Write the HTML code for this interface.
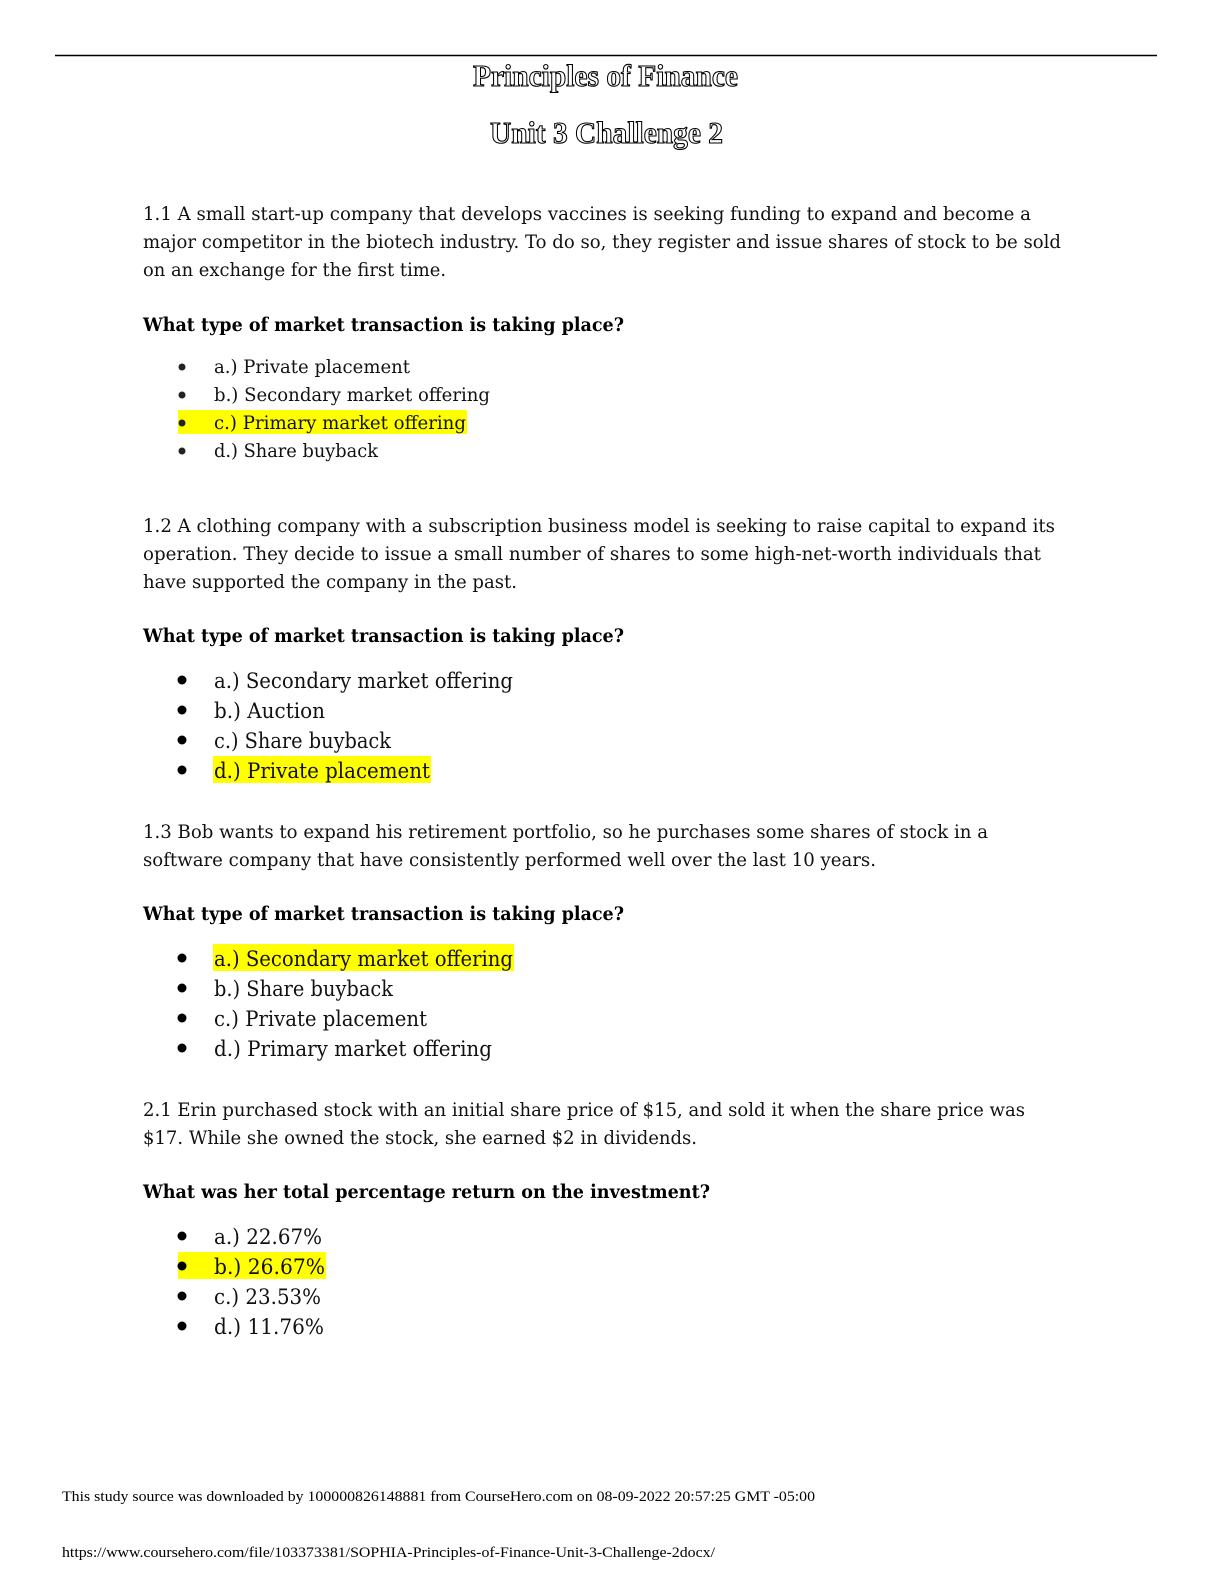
<!DOCTYPE html>
<html><head><meta charset="utf-8"><style>
html,body{margin:0;padding:0;background:#fff;width:1224px;height:1584px;overflow:hidden}
svg{display:block;position:absolute;left:0;top:0}
.b{font-family:"DejaVu Serif","Liberation Serif",serif;font-size:19px;fill:#111}
.l{font-family:"DejaVu Serif","Liberation Serif",serif;font-size:21px;fill:#111}
.q{font-family:"DejaVu Serif","Liberation Serif",serif;font-size:19px;font-weight:bold;fill:#000}
.t{font-family:"Liberation Serif",serif;font-size:31px;font-weight:bold;fill:#fff;stroke:#000;stroke-width:1.1}
.f{font-family:"Liberation Serif",serif;font-size:15px;fill:#000}
</style></head><body>
<svg width="1224" height="1584" viewBox="0 0 1224 1584" xmlns="http://www.w3.org/2000/svg">
<line x1="55" y1="55.5" x2="1157" y2="55.5" stroke="#000" stroke-width="1.5"/>
<text class="t" x="473" y="86" textLength="265" lengthAdjust="spacingAndGlyphs">Principles of Finance</text>
<text class="t" x="490" y="143" textLength="233" lengthAdjust="spacingAndGlyphs">Unit 3 Challenge 2</text>

<text class="b" x="143" y="220" textLength="888" lengthAdjust="spacingAndGlyphs">1.1 A small start-up company that develops vaccines is seeking funding to expand and become a</text>
<text class="b" x="143" y="248" textLength="918" lengthAdjust="spacingAndGlyphs">major competitor in the biotech industry. To do so, they register and issue shares of stock to be sold</text>
<text class="b" x="143" y="276" textLength="303" lengthAdjust="spacingAndGlyphs">on an exchange for the first time.</text>
<text class="q" x="143" y="331" textLength="481" lengthAdjust="spacingAndGlyphs">What type of market transaction is taking place?</text>
<rect x="178" y="410" width="289" height="24" fill="#ffff00"/>
<g fill="#222"><circle cx="182" cy="367" r="3.5"/><circle cx="182" cy="395" r="3.5"/><circle cx="182" cy="423" r="3.5"/><circle cx="182" cy="451" r="3.5"/></g>
<text class="b" x="214" y="373" textLength="196" lengthAdjust="spacingAndGlyphs">a.) Private placement</text>
<text class="b" x="214" y="401" textLength="276" lengthAdjust="spacingAndGlyphs">b.) Secondary market offering</text>
<text class="b" x="214" y="429" textLength="252" lengthAdjust="spacingAndGlyphs">c.) Primary market offering</text>
<text class="b" x="214" y="457" textLength="164" lengthAdjust="spacingAndGlyphs">d.) Share buyback</text>

<text class="b" x="143" y="532" textLength="912" lengthAdjust="spacingAndGlyphs">1.2 A clothing company with a subscription business model is seeking to raise capital to expand its</text>
<text class="b" x="143" y="560" textLength="898" lengthAdjust="spacingAndGlyphs">operation. They decide to issue a small number of shares to some high-net-worth individuals that</text>
<text class="b" x="143" y="588" textLength="374" lengthAdjust="spacingAndGlyphs">have supported the company in the past.</text>
<text class="q" x="143" y="642" textLength="481" lengthAdjust="spacingAndGlyphs">What type of market transaction is taking place?</text>
<rect x="213" y="756" width="218" height="27" fill="#ffff00"/>
<g fill="#000"><circle cx="182" cy="680" r="4.5"/><circle cx="182" cy="710" r="4.5"/><circle cx="182" cy="740" r="4.5"/><circle cx="182" cy="770" r="4.5"/></g>
<text class="l" x="214" y="688" textLength="299" lengthAdjust="spacingAndGlyphs">a.) Secondary market offering</text>
<text class="l" x="214" y="718" textLength="111" lengthAdjust="spacingAndGlyphs">b.) Auction</text>
<text class="l" x="214" y="748" textLength="177" lengthAdjust="spacingAndGlyphs">c.) Share buyback</text>
<text class="l" x="214" y="778" textLength="216" lengthAdjust="spacingAndGlyphs">d.) Private placement</text>

<text class="b" x="143" y="838" textLength="845" lengthAdjust="spacingAndGlyphs">1.3 Bob wants to expand his retirement portfolio, so he purchases some shares of stock in a</text>
<text class="b" x="143" y="866" textLength="733" lengthAdjust="spacingAndGlyphs">software company that have consistently performed well over the last 10 years.</text>
<text class="q" x="143" y="920" textLength="481" lengthAdjust="spacingAndGlyphs">What type of market transaction is taking place?</text>
<rect x="213" y="944" width="301" height="27" fill="#ffff00"/>
<g fill="#000"><circle cx="182" cy="958" r="4.5"/><circle cx="182" cy="988" r="4.5"/><circle cx="182" cy="1018" r="4.5"/><circle cx="182" cy="1048" r="4.5"/></g>
<text class="l" x="214" y="966" textLength="299" lengthAdjust="spacingAndGlyphs">a.) Secondary market offering</text>
<text class="l" x="214" y="996" textLength="179" lengthAdjust="spacingAndGlyphs">b.) Share buyback</text>
<text class="l" x="214" y="1026" textLength="213" lengthAdjust="spacingAndGlyphs">c.) Private placement</text>
<text class="l" x="214" y="1056" textLength="278" lengthAdjust="spacingAndGlyphs">d.) Primary market offering</text>

<text class="b" x="143" y="1116" textLength="882" lengthAdjust="spacingAndGlyphs">2.1 Erin purchased stock with an initial share price of $15, and sold it when the share price was</text>
<text class="b" x="143" y="1144" textLength="554" lengthAdjust="spacingAndGlyphs">$17. While she owned the stock, she earned $2 in dividends.</text>
<text class="q" x="143" y="1198" textLength="567" lengthAdjust="spacingAndGlyphs">What was her total percentage return on the investment?</text>
<rect x="178" y="1252" width="148" height="27" fill="#ffff00"/>
<g fill="#000"><circle cx="182" cy="1236" r="4.5"/><circle cx="182" cy="1266" r="4.5"/><circle cx="182" cy="1296" r="4.5"/><circle cx="182" cy="1326" r="4.5"/></g>
<text class="l" x="214" y="1244" textLength="108" lengthAdjust="spacingAndGlyphs">a.) 22.67%</text>
<text class="l" x="214" y="1274" textLength="111" lengthAdjust="spacingAndGlyphs">b.) 26.67%</text>
<text class="l" x="214" y="1304" textLength="107" lengthAdjust="spacingAndGlyphs">c.) 23.53%</text>
<text class="l" x="214" y="1334" textLength="110" lengthAdjust="spacingAndGlyphs">d.) 11.76%</text>

<text class="f" x="62" y="1501" textLength="753" lengthAdjust="spacingAndGlyphs">This study source was downloaded by 100000826148881 from CourseHero.com on 08-09-2022 20:57:25 GMT -05:00</text>
<text class="f" x="62" y="1557" textLength="653" lengthAdjust="spacingAndGlyphs">https://www.coursehero.com/file/103373381/SOPHIA-Principles-of-Finance-Unit-3-Challenge-2docx/</text>
</svg>
</body></html>
